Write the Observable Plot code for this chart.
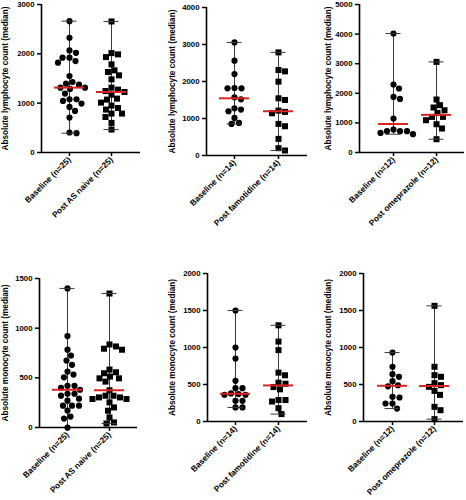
<!DOCTYPE html>
<html><head><meta charset="utf-8">
<script src="https://cdn.jsdelivr.net/npm/d3@7"></script>
<script src="https://cdn.jsdelivr.net/npm/@observablehq/plot@0.6"></script>
<style>
body{margin:0;background:#fff;}
#chart{position:relative;width:466px;height:500px;overflow:hidden;background:#fff;}
#chart svg{position:absolute;overflow:visible;}
</style></head><body><div id="chart"></div>
<script>
// ---- categories ----
const catAS = ["Baseline (n=25)", "Post AS naive (n=25)"];
const catFam = ["Baseline (n=14)", "Post famotidine (n=14)"];
const catOme = ["Baseline (n=12)", "Post omeprazole (n=12)"];
const lymphTitle = "Absolute lymphocyte count (median)";
const monoTitle = "Absolute monocyte count (median)";

// ---- values: lymphocytes ----
const lymphBaseAS = [2663, 2326, 2070, 2020, 1922, 1922, 1854, 1820, 1551, 1429, 1396, 1375, 1315, 1315, 1288, 1194, 1079, 1079, 1045, 991, 924, 843, 708, 391, 405];
const lymphPostAS = [2656, 2015, 1989, 1934, 1786, 1665, 1631, 1564, 1483, 1315, 1274, 1246, 1226, 1173, 1072, 1092, 1011, 951, 902, 870, 789, 789, 720, 599, 465];
const lymphBaseFam = [3056, 2562, 2202, 1816, 1816, 1825, 1573, 1519, 1240, 1276, 1196, 1016, 854, 881];
const lymphPostFam = [2787, 2274, 2310, 1996, 1501, 1546, 1178, 1142, 1213, 854, 791, 449, 198, 135];
const lymphBaseOme = [4020, 2297, 2162, 1878, 1811, 1149, 777, 720, 720, 720, 662, 618];
const lymphPostOme = [3061, 1790, 1598, 1520, 1429, 1338, 1203, 1203, 1091, 956, 811, 449];

// ---- values: monocytes ----
const monoBaseAS = [1400, 920, 783, 725, 674, 631, 563, 533, 505, 420, 420, 400, 380, 340, 340, 320, 290, 270, 220, 220, 220, 170, 110, 90, 0];
const monoPostAS = [1349, 836, 816, 793, 783, 583, 556, 546, 513, 495, 495, 462, 375, 320, 320, 303, 303, 287, 287, 253, 202, 169, 101, 51, 40];
const monoBaseFam = [1500, 1000, 850, 550, 450, 450, 380, 370, 360, 360, 280, 280, 190, 190];
const monoPostFam = [1300, 1080, 965, 660, 625, 525, 510, 465, 435, 290, 290, 270, 180, 100];
const monoBaseOme = [932, 739, 640, 604, 545, 490, 475, 334, 324, 243, 243, 175];
const monoPostOme = [1563, 739, 626, 604, 518, 491, 468, 414, 360, 198, 153, 32];

// ---- tick labels ----
const ticksLymphAS = [0, 1000, 2000, 3000];
const ticksLymphFam = [0, 1000, 2000, 3000, 4000];
const ticksLymphOme = [0, 1000, 2000, 3000, 4000, 5000];
const ticksMonoAS = [0, 500, 1000, 1500];
const ticksMonoFam = [0, 500, 1000, 1500, 2000];
const ticksMonoOme = [0, 500, 1000, 1500, 2000];

const panels = [
  {title: lymphTitle, cats: catAS, series: [lymphBaseAS, lymphPostAS], ticks: ticksLymphAS},
  {title: lymphTitle, cats: catFam, series: [lymphBaseFam, lymphPostFam], ticks: ticksLymphFam},
  {title: lymphTitle, cats: catOme, series: [lymphBaseOme, lymphPostOme], ticks: ticksLymphOme},
  {title: monoTitle, cats: catAS, series: [monoBaseAS, monoPostAS], ticks: ticksMonoAS},
  {title: monoTitle, cats: catFam, series: [monoBaseFam, monoPostFam], ticks: ticksMonoFam},
  {title: monoTitle, cats: catOme, series: [monoBaseOme, monoPostOme], ticks: ticksMonoOme}
];

// ---- layout (page pixels) ----
const layout = [
  {axisX: 41, yTop: 4, yBottom: 152, axisEnd: 140, c0: 69, c1: 111, labelDx: -36},
  {axisX: 206, yTop: 7, yBottom: 155, axisEnd: 307, c0: 234, c1: 278, labelDx: -34},
  {axisX: 359, yTop: 4, yBottom: 152, axisEnd: 464, c0: 393, c1: 436, labelDx: -31},
  {axisX: 39, yTop: 278, yBottom: 427, axisEnd: 137, c0: 67, c1: 109, labelDx: -34.5},
  {axisX: 207, yTop: 273, yBottom: 421, axisEnd: 307, c0: 235, c1: 278, labelDx: -35},
  {axisX: 363, yTop: 273, yBottom: 421, axisEnd: 463, c0: 392, c1: 434, labelDx: -35}
];

const FONT = "'Liberation Sans', Arial, Helvetica, sans-serif";
const mL = 40, mR = 4, mT = 10, mB = 92;

function swarmOffsets(values, yPx, minDist) {
  const idx = d3.range(values.length).sort((a, b) => d3.descending(values[a], values[b]));
  const placed = [];
  const off = new Array(values.length).fill(0);
  for (const i of idx) {
    const y = yPx(values[i]);
    for (let k = 0; k < 400; k++) {
      const c = (k % 2 ? 1 : -1) * Math.ceil(k / 2) * 0.5;
      if (placed.every(p => (p[0] - c) ** 2 + (p[1] - y) ** 2 >= minDist * minDist)) {
        off[i] = c; placed.push([c, y]); break;
      }
    }
  }
  return off;
}

const chart = document.getElementById("chart");
panels.forEach((p, pi) => {
  const L = layout[pi];
  const step = L.c1 - L.c0;
  const x0 = -(L.c0 - L.axisX) / step;
  const x1 = 1 + (L.axisEnd - L.c1) / step;
  const innerH = L.yBottom - L.yTop;
  const ymax = d3.max(p.ticks);
  const yPx = d3.scaleLinear().domain([0, ymax]).range([innerH, 0]);
  const pts = [];
  const stats = [];
  p.series.forEach((vals, g) => {
    const off = swarmOffsets(vals, yPx, 6.6);
    vals.forEach((v, i) => pts.push({g, x: g + off[i] / step, y: v}));
    stats.push({g, min: d3.min(vals), max: d3.max(vals), median: d3.median(vals)});
  });
  const capW = 7.5 / step, medW = 15 / step;
  const left = L.axisX - mL;
  const width = L.axisEnd - left + mR;
  const height = innerH + mT + mB;
  const svg = Plot.plot({
    width, height, marginLeft: mL, marginRight: mR, marginTop: mT, marginBottom: mB,
    x: {domain: [x0, x1]},
    y: {domain: [0, ymax]},
    style: {fontFamily: FONT, fontSize: "8px", fontWeight: "bold", color: "#000", background: "transparent", overflow: "visible"},
    marks: [
      Plot.axisY({ticks: p.ticks, tickSize: 4, tickPadding: 3, strokeWidth: 1.5, label: null, tickFormat: d => String(d), fontSize: 7.8, fontWeight: "bold"}),
      Plot.axisX({ticks: [0, 1], tickFormat: i => p.cats[i], tickRotate: -45, tickSize: 4, tickPadding: 2, strokeWidth: 1.5, label: null, fontSize: 8.3, fontWeight: "bold"}),
      Plot.ruleX(stats, {x: "g", y1: "min", y2: "max", stroke: "#3a3a3a", strokeWidth: 1}),
      Plot.dot(pts.filter(d => d.g === 0), {x: "x", y: "y", r: 3.1, fill: "#000", symbol: "circle"}),
      Plot.dot(pts.filter(d => d.g === 1), {x: "x", y: "y", r: 3.4, fill: "#000", symbol: "square"}),
      Plot.ruleY(stats, {y: "max", x1: d => d.g - capW, x2: d => d.g + capW, stroke: "#3a3a3a", strokeWidth: 1}),
      Plot.ruleY(stats, {y: "min", x1: d => d.g - capW, x2: d => d.g + capW, stroke: "#3a3a3a", strokeWidth: 1}),
      Plot.ruleY(stats, {y: "median", x1: d => d.g - medW, x2: d => d.g + medW, stroke: "#dd2222", strokeWidth: 2}),
      Plot.ruleY([0], {stroke: "#000", strokeWidth: 1.6}),
      Plot.ruleX([x0], {stroke: "#000", strokeWidth: 1.6}),
      Plot.text([p.title], {frameAnchor: "left", textAnchor: "middle", lineAnchor: "middle", rotate: -90, dx: L.labelDx, fontSize: 8.2, fontWeight: "bold", fill: "#000"})
    ]
  });
  svg.style.left = left + "px";
  svg.style.top = (L.yTop - mT) + "px";
  chart.appendChild(svg);
});
</script></body></html>
